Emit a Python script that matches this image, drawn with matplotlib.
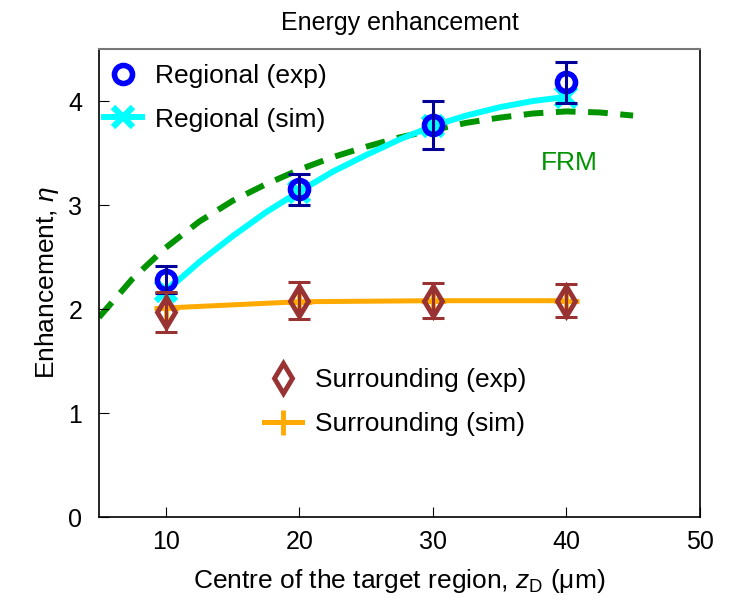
import matplotlib
matplotlib.use("Agg")
import matplotlib.pyplot as plt
from matplotlib.lines import Line2D

plt.rcParams.update({
    "font.family": ["Liberation Sans", "DejaVu Sans"],
    "mathtext.fontset": "custom",
    "mathtext.rm": "Liberation Sans",
    "mathtext.it": "Liberation Sans:italic",
    "mathtext.bf": "Liberation Sans:bold",
    "font.size": 19,
})

# Measured enhancement at each target-region centre
z_target = [10, 20, 30, 40]
regional_exp = [2.28, 3.15, 3.77, 4.18]
regional_exp_err = [0.13, 0.15, 0.23, 0.20]
surround_exp = [1.97, 2.08, 2.08, 2.08]
surround_exp_err = [0.19, 0.18, 0.17, 0.16]

# Simulated enhancement
regional_sim_z = [10, 12.5, 15, 17.5, 20, 22.5, 25, 27.5, 30, 32.5, 35, 37.5, 40]
regional_sim = [2.17, 2.45, 2.70, 2.93, 3.13, 3.32, 3.48, 3.63, 3.76, 3.86, 3.94, 4.00, 4.04]
regional_sim_marks = [0, 4, 8, 12]
surround_sim = [2.01, 2.07, 2.08, 2.08]

# FRM model curve
frm_z = [5, 7.5, 10, 12.5, 15, 17.5, 20, 22.5, 25, 27.5, 30, 32.5, 35, 37.5, 40, 42.5, 45]
frm = [1.92, 2.29, 2.59, 2.84, 3.04, 3.20, 3.34, 3.46, 3.56, 3.65, 3.72, 3.79, 3.84, 3.88, 3.90, 3.89, 3.86]

x_ticks = [10, 20, 30, 40, 50]
y_ticks = [0, 1, 2, 3, 4]

BLUE = "#0000ff"
NAVY = "#000099"
CYAN = "#00ffff"
GREEN = "#009400"
ORANGE = "#ffaa00"
BROWN = "#993333"

fig = plt.figure(figsize=(7.29, 6.03), dpi=100)
ax = fig.add_axes([0.1358, 0.1426, 0.8242, 0.7761])

# model curve
ax.plot(frm_z, frm, color=GREEN, lw=4.3,
        linestyle=(0, (3.3, 2.1)), zorder=1, solid_capstyle="butt")

# simulations
ax.plot(regional_sim_z, regional_sim, color=CYAN, lw=4.3, zorder=2,
        marker="x", markevery=regional_sim_marks, ms=14, mew=4.5)
ax.plot(z_target, surround_sim, color=ORANGE, lw=3.6, zorder=2,
        marker="+", ms=18, mew=3.5)

# experiments
ax.plot(z_target, regional_exp, ls="none", marker="o", ms=13, mew=4,
        mfc="none", mec=BLUE, zorder=4)
ax.errorbar(z_target, regional_exp, yerr=regional_exp_err, fmt="none",
            ecolor=NAVY, elinewidth=2.2, capsize=8, capthick=2.2, zorder=5)
ax.plot(z_target, surround_exp, ls="none", marker="d", ms=15, mew=3.5,
        mfc="none", mec=BROWN, zorder=4)
ax.errorbar(z_target, surround_exp, yerr=surround_exp_err, fmt="none",
            ecolor=BROWN, elinewidth=2.2, capsize=8, capthick=2.2, zorder=5)

ax.text(0.782, 0.756, "FRM", color=GREEN, transform=ax.transAxes,
        ha="center", va="center", fontsize=19)

ax.set_xlim(5, 50)
ax.set_ylim(0, 4.5)
ax.set_xticks(x_ticks)
ax.set_yticks(y_ticks)
ax.tick_params(direction="in", length=7, width=0.8, top=False, right=False,
               labelsize=18)
ax.tick_params(axis="y", pad=12)
ax.tick_params(axis="x", pad=9)
for side in ("left", "bottom", "right"):
    ax.spines[side].set_color("black")
    ax.spines[side].set_linewidth(1.2)
ax.spines["top"].set_color("#777777")
ax.spines["top"].set_linewidth(1.5)

ax.set_title("Energy enhancement", fontsize=18, pad=14)
ax.set_xlabel(r"Centre of the target region, $z_\mathrm{D}$ (μm)", fontsize=19, labelpad=10)
ax.set_ylabel(r"Enhancement, $\eta$", fontsize=19, labelpad=5)

h_reg = [
    Line2D([], [], ls="none", marker="o", ms=13, mew=4, mfc="none", mec=BLUE),
    Line2D([], [], color=CYAN, lw=4.3, marker="x", ms=14, mew=4.5),
]
leg1 = fig.legend(h_reg, ["Regional (exp)", "Regional (sim)"], loc="center left",
                  bbox_to_anchor=(0.142, 0.838), frameon=False, fontsize=19,
                  handlelength=1.45, handletextpad=0.5, labelspacing=0.75,
                  borderpad=0, borderaxespad=0)
h_sur = [
    Line2D([], [], ls="none", marker="d", ms=15, mew=3.5, mfc="none", mec=BROWN),
    Line2D([], [], color=ORANGE, lw=3.6, marker="+", ms=18, mew=3.5),
]
leg2 = fig.legend(h_sur, ["Surrounding (exp)", "Surrounding (sim)"], loc="center left",
                  bbox_to_anchor=(0.362, 0.333), frameon=False, fontsize=19,
                  handlelength=1.45, handletextpad=0.5, labelspacing=0.75,
                  borderpad=0, borderaxespad=0)

fig.savefig("out.png", dpi=100)
